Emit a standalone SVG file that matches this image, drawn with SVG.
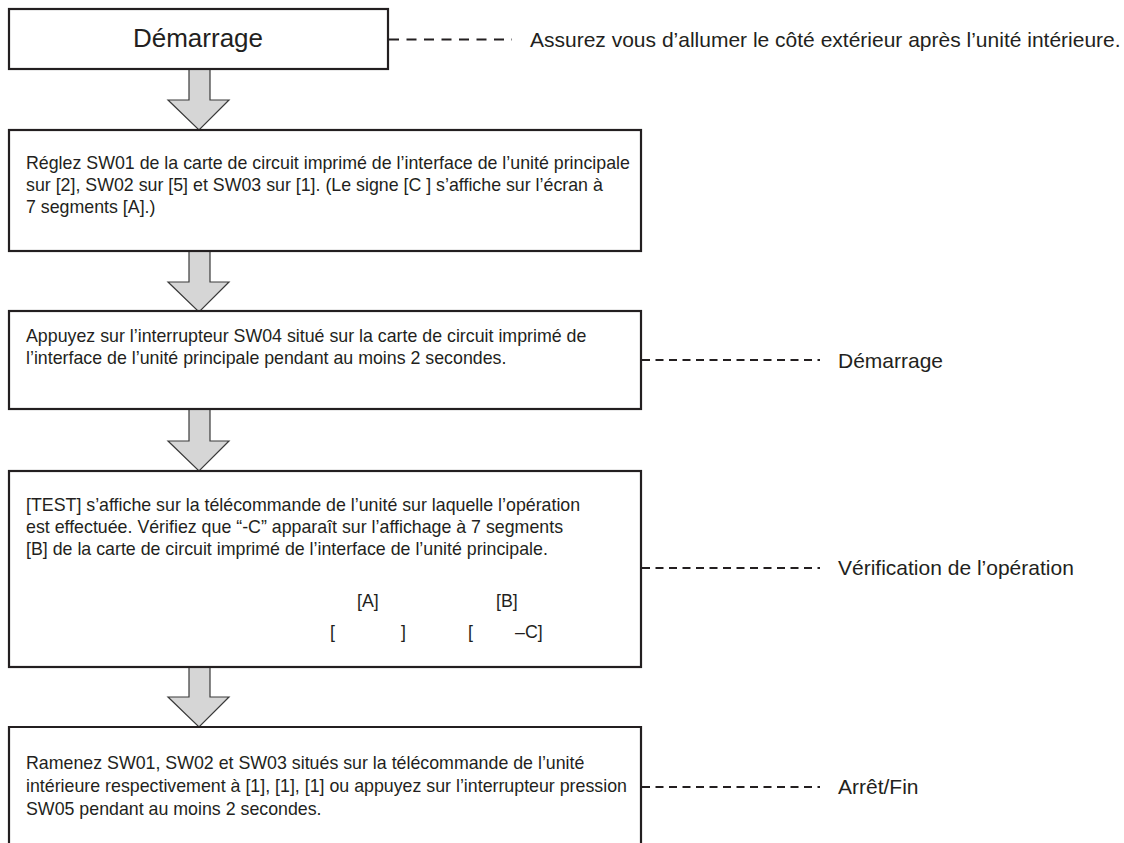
<svg xmlns="http://www.w3.org/2000/svg" width="1124" height="843" viewBox="0 0 1124 843">
  <style>
    .box { fill: #ffffff; stroke: #231f20; stroke-width: 2.2; }
    .arrow { fill: #d6d6d6; stroke: #3a3a3a; stroke-width: 1.2; stroke-linejoin: miter; }
    .lead { fill: none; stroke: #231f20; stroke-width: 1.8; stroke-dasharray: 8 5.5; }
    .lead-top { fill: none; stroke: #231f20; stroke-width: 1.8; stroke-dasharray: 10 7.5; }
    text { font-family: "Liberation Sans", Arial, Helvetica, sans-serif; fill: #231f20; }
    .body { font-size: 17.8px; }
    .title { font-size: 26px; }
    .note { font-size: 21px; }
  </style>

  <!-- flow arrows between steps -->
  <g id="connectors">
    <polygon class="arrow" points="189,69 210,69 210,100 229,100 199,130 168,100 189,100"/>
    <polygon class="arrow" points="189,251 210,251 210,282 229,282 199,312 168,282 189,282"/>
    <polygon class="arrow" points="189,409 210,409 210,441 229,441 199,471 168,441 189,441"/>
    <polygon class="arrow" points="189,667 210,667 210,697 229,697 199,727 168,697 189,697"/>
    <!-- dashed leaders to the side notes -->
    <line class="lead-top" x1="389" y1="39.5" x2="512" y2="39.5"/>
    <line class="lead" x1="642" y1="360" x2="820" y2="360"/>
    <line class="lead" x1="642" y1="568" x2="820" y2="568"/>
    <line class="lead" x1="642" y1="787" x2="820" y2="787"/>
  </g>

  <g id="step-start">
    <rect class="box" x="9" y="9" width="379" height="60"/>
    <text class="title" x="198" y="47" text-anchor="middle">Démarrage</text>
  </g>

  <g id="step-settings">
    <rect class="box" x="9" y="130" width="632" height="121"/>
    <text class="body" x="26" y="169">Réglez SW01 de la carte de circuit imprimé de l’interface de l’unité principale</text>
    <text class="body" x="26" y="191">sur [2], SW02 sur [5] et SW03 sur [1]. (Le signe [C ] s’affiche sur l’écran à</text>
    <text class="body" x="26" y="213">7 segments [A].)</text>
  </g>

  <g id="step-press">
    <rect class="box" x="9" y="311" width="632" height="98"/>
    <text class="body" x="26" y="342">Appuyez sur l’interrupteur SW04 situé sur la carte de circuit imprimé de</text>
    <text class="body" x="26" y="364">l’interface de l’unité principale pendant au moins 2 secondes.</text>
  </g>

  <g id="step-check">
    <rect class="box" x="9" y="471" width="632" height="196"/>
    <text class="body" x="26" y="511">[TEST] s’affiche sur la télécommande de l’unité sur laquelle l’opération</text>
    <text class="body" x="26" y="533">est effectuée. Vérifiez que “-C” apparaît sur l’affichage à 7 segments</text>
    <text class="body" x="26" y="555">[B] de la carte de circuit imprimé de l’interface de l’unité principale.</text>
    <text class="body" x="357" y="607">[A]</text>
    <text class="body" x="496" y="607">[B]</text>
    <text class="body" x="330" y="638">[</text>
    <text class="body" x="401" y="638">]</text>
    <text class="body" x="468" y="638">[</text>
    <text class="body" x="515" y="638">–C]</text>
  </g>

  <g id="step-end">
    <path class="box" d="M9,850 V727 H641 V850"/>
    <text class="body" x="26" y="769">Ramenez SW01, SW02 et SW03 situés sur la télécommande de l’unité</text>
    <text class="body" x="26" y="792">intérieure respectivement à [1], [1], [1] ou appuyez sur l’interrupteur pression</text>
    <text class="body" x="26" y="815">SW05 pendant au moins 2 secondes.</text>
  </g>

  <!-- side notes -->
  <g id="note-power">
    <text class="note" x="530" y="46.5">Assurez vous d’allumer le côté extérieur après l’unité intérieure.</text>
  </g>
  <g id="note-start">
    <text class="note" x="838" y="367.5">Démarrage</text>
  </g>
  <g id="note-check">
    <text class="note" x="838" y="575">Vérification de l’opération</text>
  </g>
  <g id="note-end">
    <text class="note" x="838" y="794">Arrêt/Fin</text>
  </g>
</svg>
